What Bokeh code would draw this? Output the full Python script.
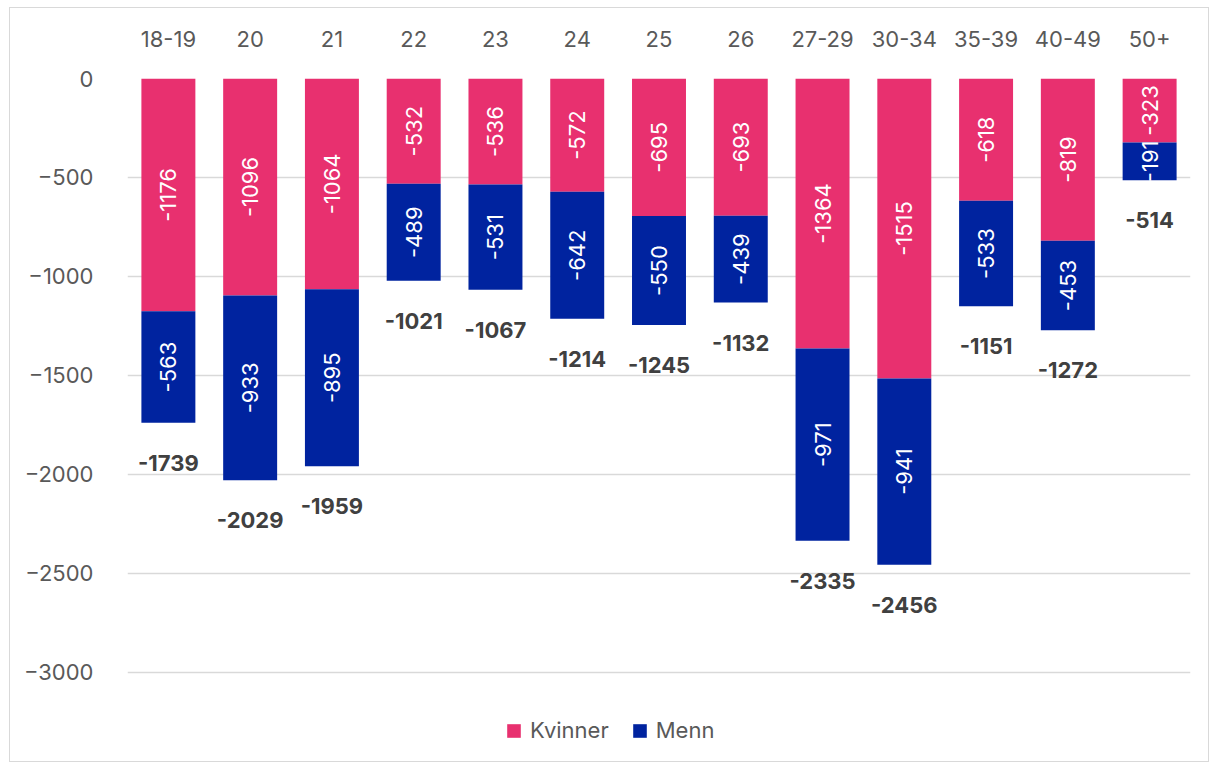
import math
from bokeh.plotting import figure
from bokeh.models import (ColumnDataSource, FactorRange, Range1d, FixedTicker,
                          Legend, LegendItem)
from bokeh.core.properties import value
from bokeh.embed import file_html
from bokeh.resources import INLINE

categories = ["18-19", "20", "21", "22", "23", "24", "25", "26",
              "27-29", "30-34", "35-39", "40-49", "50+"]
kvinner = [-1176, -1096, -1064, -532, -536, -572, -695, -693,
           -1364, -1515, -618, -819, -323]
menn = [-563, -933, -895, -489, -531, -642, -550, -439,
        -971, -941, -533, -453, -191]
totals = [-1739, -2029, -1959, -1021, -1067, -1214, -1245, -1132,
          -2335, -2456, -1151, -1272, -514]
y_ticks = [0, -500, -1000, -1500, -2000, -2500, -3000]

PINK = "#E8306F"
BLUE = "#00239F"
FONT = "Inter"
GRAY = "#595959"

k_bottom = kvinner
k_top = [0] * len(categories)
m_top = kvinner
m_bottom = [k + m for k, m in zip(kvinner, menn)]

src = ColumnDataSource(dict(
    cat=categories,
    k_top=k_top, k_bottom=k_bottom,
    m_top=m_top, m_bottom=m_bottom,
    k_mid=[k / 2 for k in kvinner],
    m_mid=[k + m / 2 for k, m in zip(kvinner, menn)],
    k_lbl=[str(v) for v in kvinner],
    m_lbl=[str(v) for v in menn],
    total=totals,
    t_lbl=[str(v) for v in totals],
))

p = figure(x_range=FactorRange(factors=categories, range_padding=0),
           y_range=Range1d(-3460, 0),
           width=1200, height=755,
           output_backend="svg", toolbar_location=None,
           x_axis_location="above",
           min_border_left=117, min_border_right=20,
           min_border_top=70, min_border_bottom=0)
p.styles = {"border": "1px solid #d9d9d9", "margin-left": "9px",
            "margin-top": "7px"}
p.outline_line_color = None

r1 = p.vbar(x="cat", top="k_top", bottom="k_bottom", width=0.66,
            fill_color=PINK, line_color=None, source=src)
r2 = p.vbar(x="cat", top="m_top", bottom="m_bottom", width=0.66,
            fill_color=BLUE, line_color=None, source=src)

p.text(x="cat", y="k_mid", text="k_lbl", angle=math.pi / 2,
       text_align="center", text_baseline="middle", text_color="white",
       text_font=value(FONT), text_font_size="22px", source=src)
p.text(x="cat", y="m_mid", text="m_lbl", angle=math.pi / 2,
       text_align="center", text_baseline="middle", text_color="white",
       text_font=value(FONT), text_font_size="22px", source=src)
p.text(x="cat", y="total", text="t_lbl", y_offset=40,
       text_align="center", text_baseline="middle", text_color="#404040",
       text_font=value(FONT), text_font_style="bold", text_font_size="22px",
       source=src)

for ax in (p.xaxis, p.yaxis):
    ax.axis_line_color = None
    ax.major_tick_line_color = None
    ax.minor_tick_line_color = None
    ax.major_label_text_font = FONT
    ax.major_label_text_font_size = "22px"
    ax.major_label_text_color = GRAY
p.xaxis.major_label_standoff = 26
p.yaxis.major_label_standoff = 28
p.yaxis.ticker = FixedTicker(ticks=y_ticks)
p.xgrid.visible = False
p.ygrid.grid_line_color = "#d9d9d9"
p.ygrid.grid_line_width = 1.5

legend = Legend(items=[LegendItem(label="Kvinner", renderers=[r1]),
                       LegendItem(label="Menn", renderers=[r2])],
                orientation="horizontal", location=(378, 20),
                border_line_color=None, background_fill_alpha=0,
                label_text_font=FONT, label_text_font_size="22px",
                label_text_color=GRAY, glyph_width=17, glyph_height=17,
                spacing=22, label_standoff=8, margin=0, padding=5)
p.add_layout(legend)

open("out.html", "w").write(file_html(p, INLINE))
